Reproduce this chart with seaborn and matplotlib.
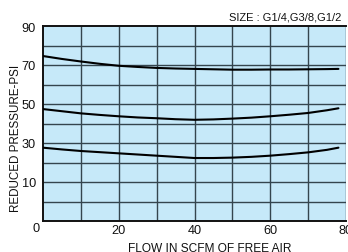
import matplotlib
matplotlib.use("Agg")
import matplotlib.pyplot as plt
import pandas as pd
import seaborn as sns

# flow (SCFM) sample points
flow = [0, 5, 10, 15, 20, 25, 30, 35, 40, 45, 50, 55, 60, 65, 70, 75, 78]

# reduced pressure curves (chart units, grid row = 10)
curve_high = [74.6, 73.1, 71.8, 70.6, 69.6, 69.0, 68.5, 68.2, 68.0,
              67.8, 67.6, 67.6, 67.7, 67.7, 67.8, 67.9, 68.0]
curve_mid = [47.4, 46.3, 45.2, 44.4, 43.7, 43.1, 42.7, 42.2, 41.9,
             42.1, 42.5, 43.0, 43.7, 44.5, 45.4, 46.8, 47.8]
curve_low = [27.6, 26.7, 25.9, 25.3, 24.7, 24.1, 23.5, 22.9, 22.3,
             22.3, 22.5, 22.9, 23.5, 24.3, 25.2, 26.5, 27.6]

ytick_pos = [10, 30, 50, 70, 90]
ytick_labels = ["10", "30", "50", "70", "90"]
xtick_pos = [20, 40, 60, 80]
xtick_labels = ["20", "40", "60", "80"]

sns.set_theme(style="white")
plt.rcParams["font.family"] = ["Liberation Sans", "DejaVu Sans"]

df = pd.DataFrame({
    "flow": flow * 3,
    "pressure": curve_high + curve_mid + curve_low,
    "curve": ["high"] * len(flow) + ["mid"] * len(flow) + ["low"] * len(flow),
})

fig = plt.figure(figsize=(3.48, 2.53), dpi=100)
ax = fig.add_axes([43 / 348, 31 / 253, 303 / 348, 195 / 253])
ax.set_facecolor("#c6e9f9")

for v in range(10, 81, 10):
    ax.axvline(v, color="#34454e", lw=1.0, zorder=1)
for h in range(0, 90, 10):
    ax.axhline(h, color="#34454e", lw=1.0, zorder=1)

sns.lineplot(data=df, x="flow", y="pressure", units="curve", estimator=None,
             color="black", lw=1.5, ax=ax, zorder=3)

ax.set_xlim(0, 80)
ax.set_ylim(-10, 90)
ax.set_xticks(xtick_pos)
ax.set_xticklabels(xtick_labels)
ax.set_yticks(ytick_pos)
ax.set_yticklabels(ytick_labels)
ax.tick_params(axis="both", length=0, labelsize=9.2, colors="#111111")
ax.tick_params(axis="y", pad=5)
ax.tick_params(axis="x", pad=2)
ax.set_xlabel("")
ax.set_ylabel("")

for side in ["left", "bottom", "top"]:
    ax.spines[side].set_color("#111111")
    ax.spines[side].set_linewidth(1.4)
ax.spines["right"].set_visible(False)

fig.text(36 / 348, 1 - 229 / 253, "0", ha="center", va="center", fontsize=9.2, color="#111111")
fig.text(341 / 348, 1 - 17 / 253, "SIZE : G1/4,G3/8,G1/2", ha="right", va="center",
         fontsize=8.0, color="#111111")
fig.text(16 / 348, 1 - 138 / 253, "REDUCED PRESSURE-PSI", rotation=90, ha="center",
         va="center", fontsize=8.4, color="#111111")
fig.text(210 / 348, 1 - 243.5 / 253, "FLOW IN SCFM OF FREE AIR", ha="center", va="top",
         fontsize=8.6, color="#111111")

fig.savefig("out.png", dpi=100)
